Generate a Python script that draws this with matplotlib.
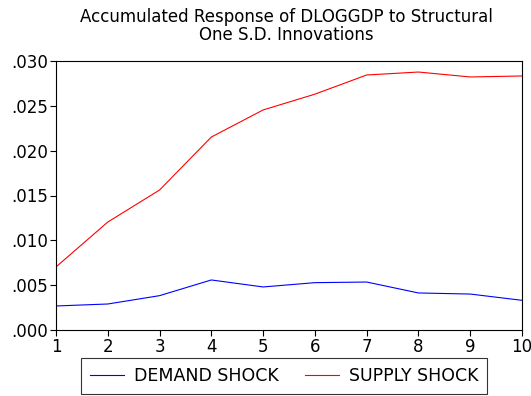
import matplotlib
matplotlib.use('Agg')
from matplotlib import pyplot as plt
from matplotlib.ticker import FuncFormatter
import numpy as np

periods = [1, 2, 3, 4, 5, 6, 7, 8, 9, 10]
demand_shock = [0.00268, 0.00290, 0.00383, 0.00558, 0.00480, 0.00528, 0.00535, 0.00413, 0.00401, 0.00331]
supply_shock = [0.00703, 0.01204, 0.01561, 0.02152, 0.02454, 0.02630, 0.02844, 0.02877, 0.02822, 0.02833]

plt.rcParams['font.family'] = ['DejaVu Sans']

fig = plt.figure(figsize=(5.31, 3.96), dpi=100)
ax = fig.add_axes([56/531, 1 - 330/396, 466/531, 269/396])

ax.plot(periods, demand_shock, color='#0000ff', lw=0.8, label='DEMAND SHOCK')
ax.plot(periods, supply_shock, color='#ff0000', lw=0.8, label='SUPPLY SHOCK')

ax.set_xlim(1, 10)
ax.set_ylim(0, 0.030)
ax.set_xticks(periods)
ax.set_yticks(np.arange(0, 0.0301, 0.005))
ax.yaxis.set_major_formatter(FuncFormatter(lambda v, p: ('%.3f' % v)[1:]))
ax.tick_params(direction='out', length=4, width=0.8, labelsize=12, pad=1.5)
for s in ax.spines.values():
    s.set_linewidth(0.8)

fig.text(286/531, 1 - 26/396, 'Accumulated Response of DLOGGDP to Structural\nOne S.D. Innovations',
         ha='center', va='center', fontsize=12, linespacing=1.0)

leg = fig.legend(loc='center', bbox_to_anchor=(284/531, 1 - 376/396), ncol=2,
                 fontsize=12.5, frameon=True, fancybox=False, edgecolor='black',
                 handlelength=2.0, handletextpad=0.55, columnspacing=1.5, borderpad=0.5)
leg.get_frame().set_linewidth(0.8)

plt.savefig('out.png', dpi=100)
